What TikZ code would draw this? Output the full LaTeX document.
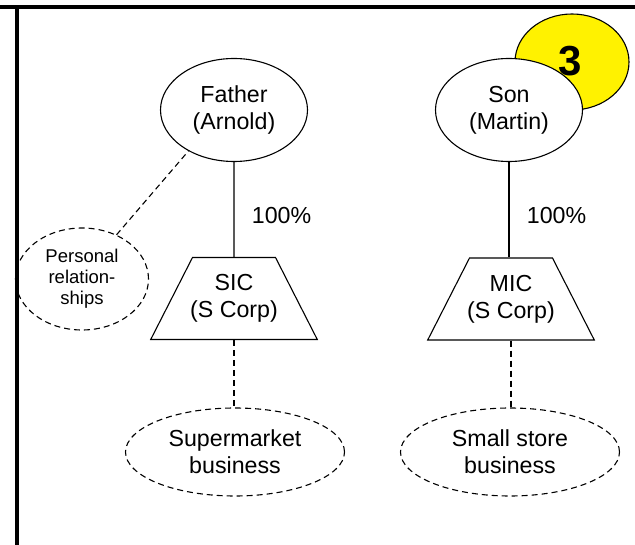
\documentclass[tikz,border=0pt]{standalone}
\usepackage{fontspec}
\setmainfont{Liberation Sans}
\usetikzlibrary{shapes.geometric}

\newcommand{\corpline}[1]{\makebox[83pt]{#1}}

\begin{document}
\begin{tikzpicture}[x=1pt,y=-1pt]
\useasboundingbox (0,0) rectangle (635,545);

% frame
\draw[line width=3.5pt] (0,7) -- (635,7);
\draw[line width=3.5pt] (17,7) -- (17,545);

\begin{scope}[
    every node/.style={draw=black,line width=1.1pt,align=center,
        font=\fontsize{23.2}{27}\selectfont},
    person/.style={ellipse,fill=white,minimum width=147pt,minimum height=103pt,inner sep=0pt},
    corp/.style={trapezium,trapezium left angle=63,trapezium right angle=63,
        text height=44pt,text depth=5pt,inner xsep=0pt,inner ysep=16.5pt},
    biz/.style={ellipse,dashed,dash pattern=on 6pt off 4pt,minimum width=219pt,minimum height=88pt,inner sep=0pt}]
    % badge behind the son
    \node (badge) at (572, 62) [ellipse,fill=yellow,minimum width=114pt,minimum height=96pt,
        inner sep=0pt,font=\fontsize{42}{42}\selectfont\bfseries] {\raisebox{3pt}{\hspace*{-4pt}3}};

    \node (father) at (234, 110) [person] {Father\\(Arnold)};
    \node (son) at (509, 110) [person] {Son\\(Martin)};

    \node (sic) at (234, 298.5) [corp] {\corpline{SIC}\\\corpline{(S Corp)}};
    \node (mic) at (511, 299) [corp] {\corpline{MIC}\\\corpline{(S Corp)}};

    \node (superm) at (235, 452) [biz] {Supermarket\\business};
    \node (small) at (510, 452) [biz] {Small store\\business};

    % side note
    \node (pers) at (82, 279) [ellipse,dashed,dash pattern=on 6pt off 4pt,minimum width=133pt,
        minimum height=102pt,inner sep=0pt,font=\fontsize{18.5}{21}\selectfont] {Personal\\relation-\\ships};
\end{scope}

\begin{scope}[every node/.style={font=\fontsize{23.2}{27}\selectfont}]
    \draw[line width=1.1pt] (father.south) -- (sic.north) node[pos=0.56,right=14pt] (fpct) {100\%};
    \draw[line width=1.1pt] (son.south) -- (son.south |- mic.north) node[pos=0.56,right=14pt] (spct) {100\%};

    \draw[line width=1.1pt,dash pattern=on 6pt off 4pt] (sic.south) -- (sic.south |- superm.north);
    \draw[line width=1.1pt,dash pattern=on 6pt off 4pt] (mic.south) -- (mic.south |- small.north);
    \draw[line width=1.1pt,dash pattern=on 6pt off 4pt] (pers.52) -- (father.222);
\end{scope}
\end{tikzpicture}
\end{document}
